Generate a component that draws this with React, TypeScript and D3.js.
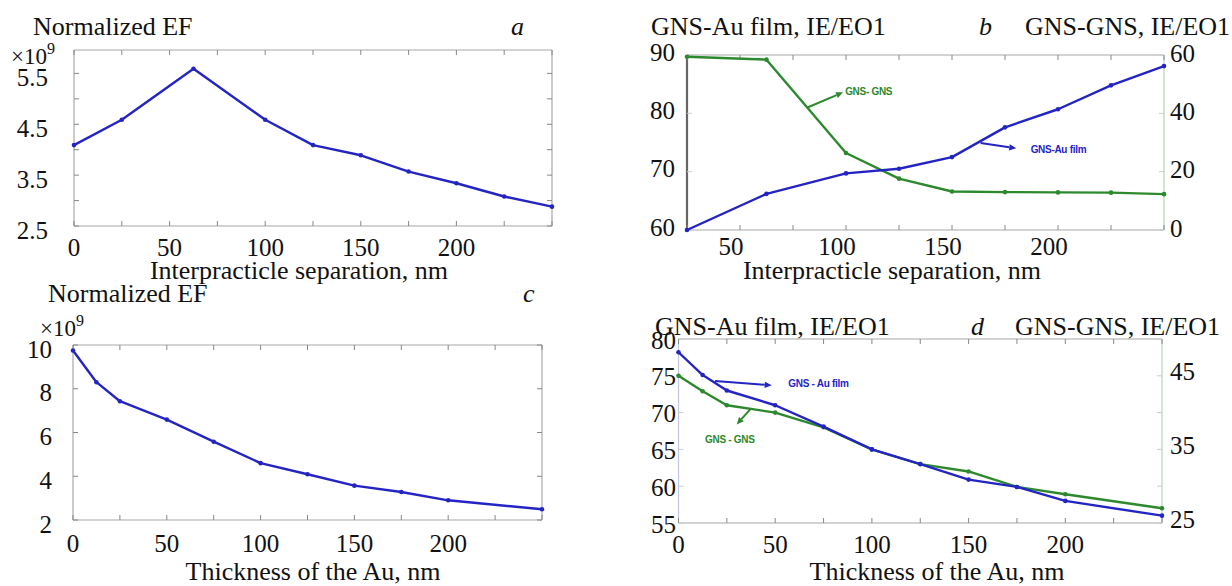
import React from 'react';
import * as d3 from 'd3';

// ---------- data ----------
// panel a: Normalized EF (x1e9) vs interparticle separation
const aX = [0, 25, 62.5, 100, 125, 150, 175, 200, 225, 250];
const aEF = [4.09, 4.59, 5.59, 4.59, 4.09, 3.89, 3.57, 3.34, 3.08, 2.88];
const aYTicks = [2.5, 3, 3.5, 4, 4.5, 5, 5.5];
const aYLabels = [2.5, 3.5, 4.5, 5.5];

// panel b: IE/EO1 vs interparticle separation
const bX = [25, 62.5, 100, 125, 150, 175, 200, 225, 250];
const bAuFilm = [60.0, 66.2, 69.7, 70.5, 72.5, 77.6, 80.7, 84.8, 88.1];
const bGnsGns = [59.4, 58.4, 26.4, 17.6, 13.2, 13.0, 12.9, 12.8, 12.3];
const bLeftTicks = [60, 70, 80, 90];
const bRightTicks = [0, 20, 40, 60];

// panel c: Normalized EF (x1e9) vs Au thickness
const cX = [0, 12.5, 25, 50, 75, 100, 125, 150, 175, 200, 250];
const cEF = [9.75, 8.3, 7.43, 6.59, 5.58, 4.6, 4.09, 3.57, 3.28, 2.9, 2.49];
const cYTicks = [2, 4, 6, 8, 10];

// panel d: IE/EO1 vs Au thickness
const dX = [0, 12.5, 25, 50, 75, 100, 125, 150, 175, 200, 250];
const dAuFilm = [78.2, 75.1, 73.0, 71.0, 68.1, 65.0, 63.0, 60.9, 59.9, 58.0, 56.0];
const dGnsGns = [45.0, 42.9, 41.0, 40.0, 38.0, 35.0, 33.0, 32.0, 29.9, 28.9, 27.0];
const dLeftTicks = [55, 60, 65, 70, 75, 80];
const dRightTicks = [25, 30, 35, 40, 45, 50];
const dRightLabels = [25, 35, 45];

const xTicks0 = [0, 25, 50, 75, 100, 125, 150, 175, 200, 225, 250];
const xTicksB = [25, 50, 75, 100, 125, 150, 175, 200, 225, 250];
const xLabels0 = [0, 50, 100, 150, 200];
const xLabelsB = [50, 100, 150, 200];

// annotations: [x, y] in data units (start, end, text anchor)
const bGreenNote = { text: 'GNS- GNS', from: [82.1, 42.1], to: [98.6, 47.2], at: [99.6, 47.4] };
const bBlueNote = { text: 'GNS-Au film', from: [163.5, 74.9], to: [180.3, 74.0], at: [187.1, 73.8] };
const dBlueNote = { text: 'GNS - Au film', from: [18.9, 74.3], to: [48.2, 73.7], at: [56.8, 73.9] };
const dGreenNote = { text: 'GNS - GNS', from: [37.3, 40.5], to: [30.1, 38.4], at: [13.7, 36.4] };

// ---------- style ----------
const SERIF = "'Liberation Serif', serif";
const SANS = "'Liberation Sans', sans-serif";
const BLUE = '#2424c4';
const GREEN = '#2d892d';
const FRAME = '#a8a8a8';
const serif = { fontFamily: SERIF };

type Scale = d3.ScaleLinear<number, number>;

function Series({ x, y, xs, ys, color }: { x: Scale; y: Scale; xs: number[]; ys: number[]; color: string }) {
  const line = d3
    .line<number>()
    .x((_, i) => x(xs[i]))
    .y((d) => y(d));
  return (
    <g>
      <path d={line(ys) || ''} fill="none" stroke={color} strokeWidth={2.4} strokeLinejoin="round" />
      {ys.map((v, i) => (
        <circle key={i} cx={x(xs[i])} cy={y(v)} r={2.3} fill={color} />
      ))}
    </g>
  );
}

function XAxis({ x, top, bottom, ticks, labels, dx = 0, labelY }: any) {
  return (
    <g>
      {ticks.map((t: number) => (
        <g key={t}>
          <line x1={x(t)} x2={x(t)} y1={bottom} y2={bottom - 5} stroke="#888" strokeWidth={1} />
          <line x1={x(t)} x2={x(t)} y1={top} y2={top + 5} stroke="#888" strokeWidth={1} />
        </g>
      ))}
      {labels.map((t: number) => (
        <text key={'l' + t} x={x(t) + dx} y={labelY} textAnchor="middle" style={serif} fontSize={25} fill="#111">
          {t}
        </text>
      ))}
    </g>
  );
}

function YAxis({ y, xEdge, side, ticks, labels, labelX, tickColor = '#888', dy = 4 }: any) {
  const dir = side === 'left' ? 1 : -1;
  return (
    <g>
      {ticks.map((t: number) => (
        <line key={t} x1={xEdge} x2={xEdge + dir * 5} y1={y(t)} y2={y(t)} stroke={tickColor} strokeWidth={1} />
      ))}
      {labels.map((t: number) => (
        <text
          key={'l' + t}
          x={labelX}
          y={y(t) + dy}
          dominantBaseline="central"
          textAnchor={side === 'left' ? 'end' : 'start'}
          style={serif}
          fontSize={25}
          fill="#111"
        >
          {t}
        </text>
      ))}
    </g>
  );
}

function Note({ note, x, y, color }: any) {
  const [x1, y1] = note.from;
  const [x2, y2] = note.to;
  const [tx, ty] = note.at;
  const px1 = x(x1), py1 = y(y1), px2 = x(x2), py2 = y(y2);
  const ang = Math.atan2(py2 - py1, px2 - px1);
  const L = 7, W = 3.2;
  const bx = px2 - L * Math.cos(ang), by = py2 - L * Math.sin(ang);
  const head = [
    [px2, py2],
    [bx - W * Math.sin(ang), by + W * Math.cos(ang)],
    [bx + W * Math.sin(ang), by - W * Math.cos(ang)],
  ]
    .map((p) => p.join(','))
    .join(' ');
  return (
    <g>
      <line x1={px1} y1={py1} x2={bx} y2={by} stroke={color} strokeWidth={2} />
      <polygon points={head} fill={color} />
      <text x={x(tx)} y={y(ty)} dominantBaseline="central" style={{ fontFamily: SANS }} fontWeight="bold" fontSize={10} letterSpacing={-0.3} fill={color}>
        {note.text}
      </text>
    </g>
  );
}

function Times10({ x, y }: { x: number; y: number }) {
  return (
    <text x={x} y={y} style={serif} fontSize={23} fill="#111">
      ×10
      <tspan dy={-10} fontSize={16}>
        9
      </tspan>
    </text>
  );
}

function Frame({ l, r, t, b, left = FRAME, right = FRAME, top = FRAME, bottom = FRAME, lw = 1.2, leftW = 1.2 }: any) {
  return (
    <g>
      <line x1={l} x2={r} y1={t} y2={t} stroke={top} strokeWidth={lw} />
      <line x1={l} x2={r} y1={b} y2={b} stroke={bottom} strokeWidth={lw} />
      <line x1={l} x2={l} y1={t} y2={b} stroke={left} strokeWidth={leftW} />
      <line x1={r} x2={r} y1={t} y2={b} stroke={right} strokeWidth={lw} />
    </g>
  );
}

function PanelA() {
  const f = { l: 74, r: 552, t: 50, b: 226 };
  const x = d3.scaleLinear().domain([0, 250]).range([f.l, f.r]);
  const y = d3.scaleLinear().domain([2.5, 5.96]).range([f.b, f.t]);
  return (
    <g>
      <Frame {...f} />
      <XAxis x={x} top={f.t} bottom={f.b} ticks={xTicks0} labels={xLabels0} labelY={f.b + 30} />
      <YAxis y={y} xEdge={f.l} side="left" ticks={aYTicks} labels={aYLabels} labelX={48} />
      <YAxis y={y} xEdge={f.r} side="right" ticks={aYTicks} labels={[]} labelX={0} />
      <Series x={x} y={y} xs={aX} ys={aEF} color={BLUE} />
      <text x={33} y={35} style={serif} fontSize={26} fill="#111">Normalized EF</text>
      <text x={511} y={35} style={serif} fontStyle="italic" fontSize={26} fill="#111">a</text>
      <Times10 x={11} y={64} />
      <text x={299} y={279} textAnchor="middle" style={serif} fontSize={26} fill="#111">
        Interpracticle separation, nm
      </text>
    </g>
  );
}

function PanelB() {
  const f = { l: 687, r: 1164, t: 55, b: 230 };
  const x = d3.scaleLinear().domain([25, 250]).range([f.l, f.r]);
  const yL = d3.scaleLinear().domain([60, 90]).range([f.b, f.t]);
  const yR = d3.scaleLinear().domain([0, 60]).range([f.b, f.t]);
  return (
    <g>
      <Frame {...f} left="#666" leftW={2.2} right="#b5d3b5" />
      <XAxis x={x} top={f.t} bottom={f.b} ticks={xTicksB} labels={xLabelsB} dx={-9} labelY={f.b + 25} />
      <YAxis y={yL} xEdge={f.l} side="left" ticks={bLeftTicks} labels={bLeftTicks} labelX={675} tickColor="#ccc" dy={-3} />
      <YAxis y={yR} xEdge={f.r} side="right" ticks={bRightTicks} labels={bRightTicks} labelX={1170} tickColor="#ccc" dy={-2} />
      <Series x={x} y={yR} xs={bX} ys={bGnsGns} color={GREEN} />
      <Series x={x} y={yL} xs={bX} ys={bAuFilm} color={BLUE} />
      <Note note={bGreenNote} x={x} y={yR} color={GREEN} />
      <Note note={bBlueNote} x={x} y={yL} color={BLUE} />
      <text x={651} y={35} style={serif} fontSize={26} fill="#111">GNS-Au film, IE/EO1</text>
      <text x={979} y={35} style={serif} fontStyle="italic" fontSize={26} fill="#111">b</text>
      <text x={1025} y={35} style={serif} fontSize={26} fill="#111">GNS-GNS, IE/EO1</text>
      <text x={892} y={279} textAnchor="middle" style={serif} fontSize={26} fill="#111">
        Interpracticle separation, nm
      </text>
    </g>
  );
}

function PanelC() {
  const f = { l: 73, r: 542, t: 345, b: 520 };
  const x = d3.scaleLinear().domain([0, 250]).range([f.l, f.r]);
  const y = d3.scaleLinear().domain([2, 10]).range([f.b, f.t]);
  return (
    <g>
      <Frame {...f} />
      <XAxis x={x} top={f.t} bottom={f.b} ticks={xTicks0} labels={xLabels0} labelY={f.b + 32} />
      <YAxis y={y} xEdge={f.l} side="left" ticks={cYTicks} labels={cYTicks} labelX={52} />
      <YAxis y={y} xEdge={f.r} side="right" ticks={cYTicks} labels={[]} labelX={0} />
      <Series x={x} y={y} xs={cX} ys={cEF} color={BLUE} />
      <text x={48} y={302} style={serif} fontSize={26} fill="#111">Normalized EF</text>
      <text x={523} y={302} style={serif} fontStyle="italic" fontSize={26} fill="#111">c</text>
      <Times10 x={40} y={336} />
      <text x={313} y={580} textAnchor="middle" style={serif} fontSize={26} fill="#111">
        Thickness of the Au, nm
      </text>
    </g>
  );
}

function PanelD() {
  const f = { l: 678.5, r: 1162, t: 339, b: 523 };
  const x = d3.scaleLinear().domain([0, 250]).range([f.l, f.r]);
  const yL = d3.scaleLinear().domain([55, 80]).range([f.b, f.t]);
  const yR = d3.scaleLinear().domain([25, 50]).range([f.b, f.t]);
  return (
    <g>
      <Frame {...f} left="#c4c4e6" right="#b5d3b5" />
      <XAxis x={x} top={f.t} bottom={f.b} ticks={xTicks0} labels={xLabels0} labelY={f.b + 30} />
      <YAxis y={yL} xEdge={f.l} side="left" ticks={dLeftTicks} labels={dLeftTicks} labelX={676} tickColor="#ccc" dy={1} />
      <YAxis y={yR} xEdge={f.r} side="right" ticks={dRightTicks} labels={dRightLabels} labelX={1170} tickColor="#ccc" dy={-4} />
      <Series x={x} y={yR} xs={dX} ys={dGnsGns} color={GREEN} />
      <Series x={x} y={yL} xs={dX} ys={dAuFilm} color={BLUE} />
      <Note note={dBlueNote} x={x} y={yL} color={BLUE} />
      <Note note={dGreenNote} x={x} y={yR} color={GREEN} />
      <text x={655} y={335} style={serif} fontSize={26} fill="#111">GNS-Au film, IE/EO1</text>
      <text x={971} y={335} style={serif} fontStyle="italic" fontSize={26} fill="#111">d</text>
      <text x={1015} y={335} style={serif} fontSize={26} fill="#111">GNS-GNS, IE/EO1</text>
      <text x={937} y={580} textAnchor="middle" style={serif} fontSize={26} fill="#111">
        Thickness of the Au, nm
      </text>
    </g>
  );
}

export default function App() {
  return (
    <svg
      width={1232}
      height={586}
      viewBox="0 0 1232 586"
      style={{ position: 'absolute', left: 0, top: 0, background: '#fff' }}
    >
      <rect x={0} y={0} width={1232} height={586} fill="#fff" />
      <PanelA />
      <PanelB />
      <PanelC />
      <PanelD />
    </svg>
  );
}
